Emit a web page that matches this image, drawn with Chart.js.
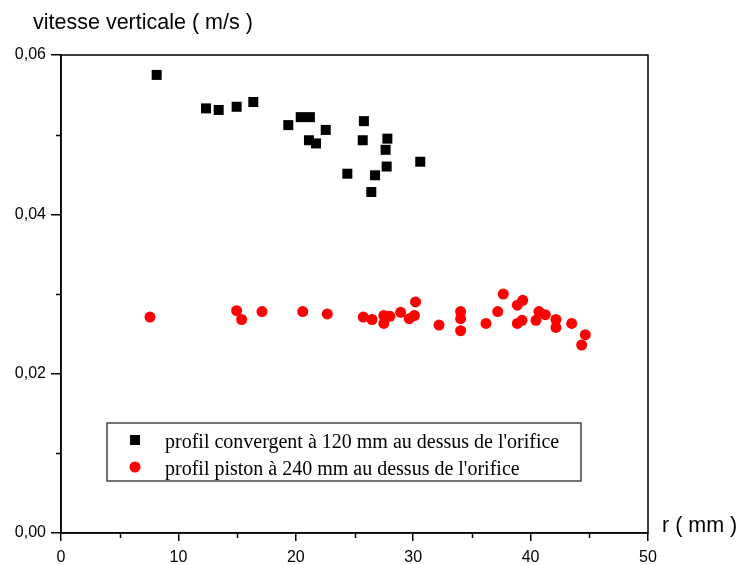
<!DOCTYPE html>
<html>
<head>
<meta charset="utf-8">
<script src="https://cdn.jsdelivr.net/npm/chart.js@4/dist/chart.umd.min.js"></script>
<style>
  html, body { margin: 0; padding: 0; background: #fff; }
  #wrap { width: 742px; height: 565px; position: relative; }
</style>
</head>
<body>
<div id="wrap"><canvas id="chart" width="742" height="565"></canvas></div>
<script>
// profil convergent (squares), r in mm / vitesse in m/s
const convR = [8.15, 12.35, 13.43, 14.96, 16.38, 19.36, 20.42, 21.2, 22.55, 21.12, 21.72, 25.8, 25.7, 27.8, 27.65, 27.74, 30.6, 24.39, 26.75, 26.43];
const convV = [0.0575, 0.0533, 0.0531, 0.0535, 0.0541, 0.0512, 0.0522, 0.0522, 0.0506, 0.0493, 0.0489, 0.0517, 0.0493, 0.0495, 0.0481, 0.046, 0.0466, 0.0451, 0.0449, 0.0428];

// profil piston (circles)
const pistR = [7.58, 14.96, 15.39, 17.12, 20.59, 22.68, 25.75, 26.49, 27.5, 28.02, 27.5, 28.93, 29.66, 30.1, 30.2, 32.2, 34.04, 34.04, 34.04, 36.2, 37.2, 37.67, 38.87, 39.33, 38.87, 39.27, 40.46, 40.71, 41.25, 42.16, 42.16, 43.5, 44.66, 44.35];
const pistV = [0.0271, 0.0279, 0.0268, 0.0278, 0.0278, 0.0275, 0.0271, 0.0268, 0.0273, 0.0272, 0.0263, 0.0277, 0.0269, 0.0273, 0.029, 0.0261, 0.0278, 0.0269, 0.0254, 0.0263, 0.0278, 0.03, 0.0286, 0.0292, 0.0263, 0.0267, 0.0267, 0.0278, 0.0274, 0.0268, 0.0258, 0.0263, 0.0249, 0.0236];

// minor tick values (between the labelled ones)
const xMinor = [5, 15, 25, 35, 45];
const yMinor = [0.01, 0.03, 0.05];

const seriesLabels = ["profil convergent à 120 mm au dessus de l'orifice", "profil piston à 240 mm au dessus de l'orifice"];
const yTitle = "vitesse verticale ( m/s )";
const xTitle = "r ( mm )";

const toPoints = (xs, ys) => xs.map((x, i) => ({ x: x, y: ys[i] }));

// frame, minor ticks, axis titles and boxed legend inside the plot
const decorPlugin = {
  id: "decor",
  afterDraw(chart) {
    const ctx = chart.ctx;
    const a = chart.chartArea;
    const sx = chart.scales.x;
    const sy = chart.scales.y;
    ctx.save();
    ctx.strokeStyle = "#000";
    ctx.lineWidth = 1.5;
    ctx.strokeRect(a.left, a.top, a.right - a.left, a.bottom - a.top);

    ctx.beginPath();
    xMinor.forEach((v) => {
      const px = Math.round(sx.getPixelForValue(v)) + 0.5;
      ctx.moveTo(px, a.bottom);
      ctx.lineTo(px, a.bottom + 5);
    });
    yMinor.forEach((v) => {
      const py = Math.round(sy.getPixelForValue(v)) + 0.5;
      ctx.moveTo(a.left, py);
      ctx.lineTo(a.left - 5, py);
    });
    ctx.stroke();

    ctx.fillStyle = "#000";
    ctx.font = "21.5px 'Liberation Sans', Arial, sans-serif";
    ctx.textBaseline = "middle";
    ctx.textAlign = "left";
    ctx.fillText(yTitle, 33, 23);
    ctx.fillText(xTitle, 662, 526);

    // legend box
    ctx.strokeStyle = "#444";
    ctx.lineWidth = 1.5;
    ctx.strokeRect(107, 423, 474, 58);
    ctx.font = "20px 'Liberation Serif', 'Times New Roman', serif";
    ctx.textBaseline = "alphabetic";
    ctx.fillStyle = "#000";
    ctx.fillRect(130, 435, 10, 10);
    ctx.fillText(seriesLabels[0], 165, 448);
    ctx.fillStyle = "#ff0000";
    ctx.beginPath();
    ctx.arc(135, 467, 5.5, 0, Math.PI * 2);
    ctx.fill();
    ctx.fillStyle = "#000";
    ctx.fillText(seriesLabels[1], 165, 475);
    ctx.restore();
  }
};

new Chart(document.getElementById("chart").getContext("2d"), {
  type: "scatter",
  data: {
    datasets: [
      {
        label: seriesLabels[0],
        data: toPoints(convR, convV),
        pointStyle: "rect",
        pointRadius: 7.07,
        backgroundColor: "#000",
        borderColor: "#000",
        borderWidth: 0
      },
      {
        label: seriesLabels[1],
        data: toPoints(pistR, pistV),
        pointStyle: "circle",
        pointRadius: 5.5,
        backgroundColor: "#ff0000",
        borderColor: "#ff0000",
        borderWidth: 0
      }
    ]
  },
  options: {
    responsive: false,
    animation: false,
    events: [],
    layout: { padding: { top: 55, right: 94, left: 0, bottom: 0 } },
    plugins: { legend: { display: false }, tooltip: { enabled: false } },
    scales: {
      x: {
        type: "linear",
        min: 0,
        max: 50,
        afterFit(s) { s.height = 32; },
        border: { display: true, color: "#000", width: 1.5 },
        grid: { drawOnChartArea: false, drawTicks: true, tickLength: 8, color: "#000", lineWidth: 1.5 },
        ticks: {
          stepSize: 10,
          padding: 7,
          color: "#000",
          font: { family: "'Liberation Sans', Arial, sans-serif", size: 16 },
          maxRotation: 0
        }
      },
      y: {
        type: "linear",
        min: 0,
        max: 0.06,
        afterFit(s) { s.width = 61; },
        border: { display: true, color: "#000", width: 1.5 },
        grid: { drawOnChartArea: false, drawTicks: true, tickLength: 10, color: "#000", lineWidth: 1.5 },
        ticks: {
          stepSize: 0.02,
          padding: 5,
          color: "#000",
          font: { family: "'Liberation Sans', Arial, sans-serif", size: 16 },
          callback: (v) => v.toFixed(2).replace(".", ",")
        }
      }
    }
  },
  plugins: [decorPlugin]
});
</script>
</body>
</html>
